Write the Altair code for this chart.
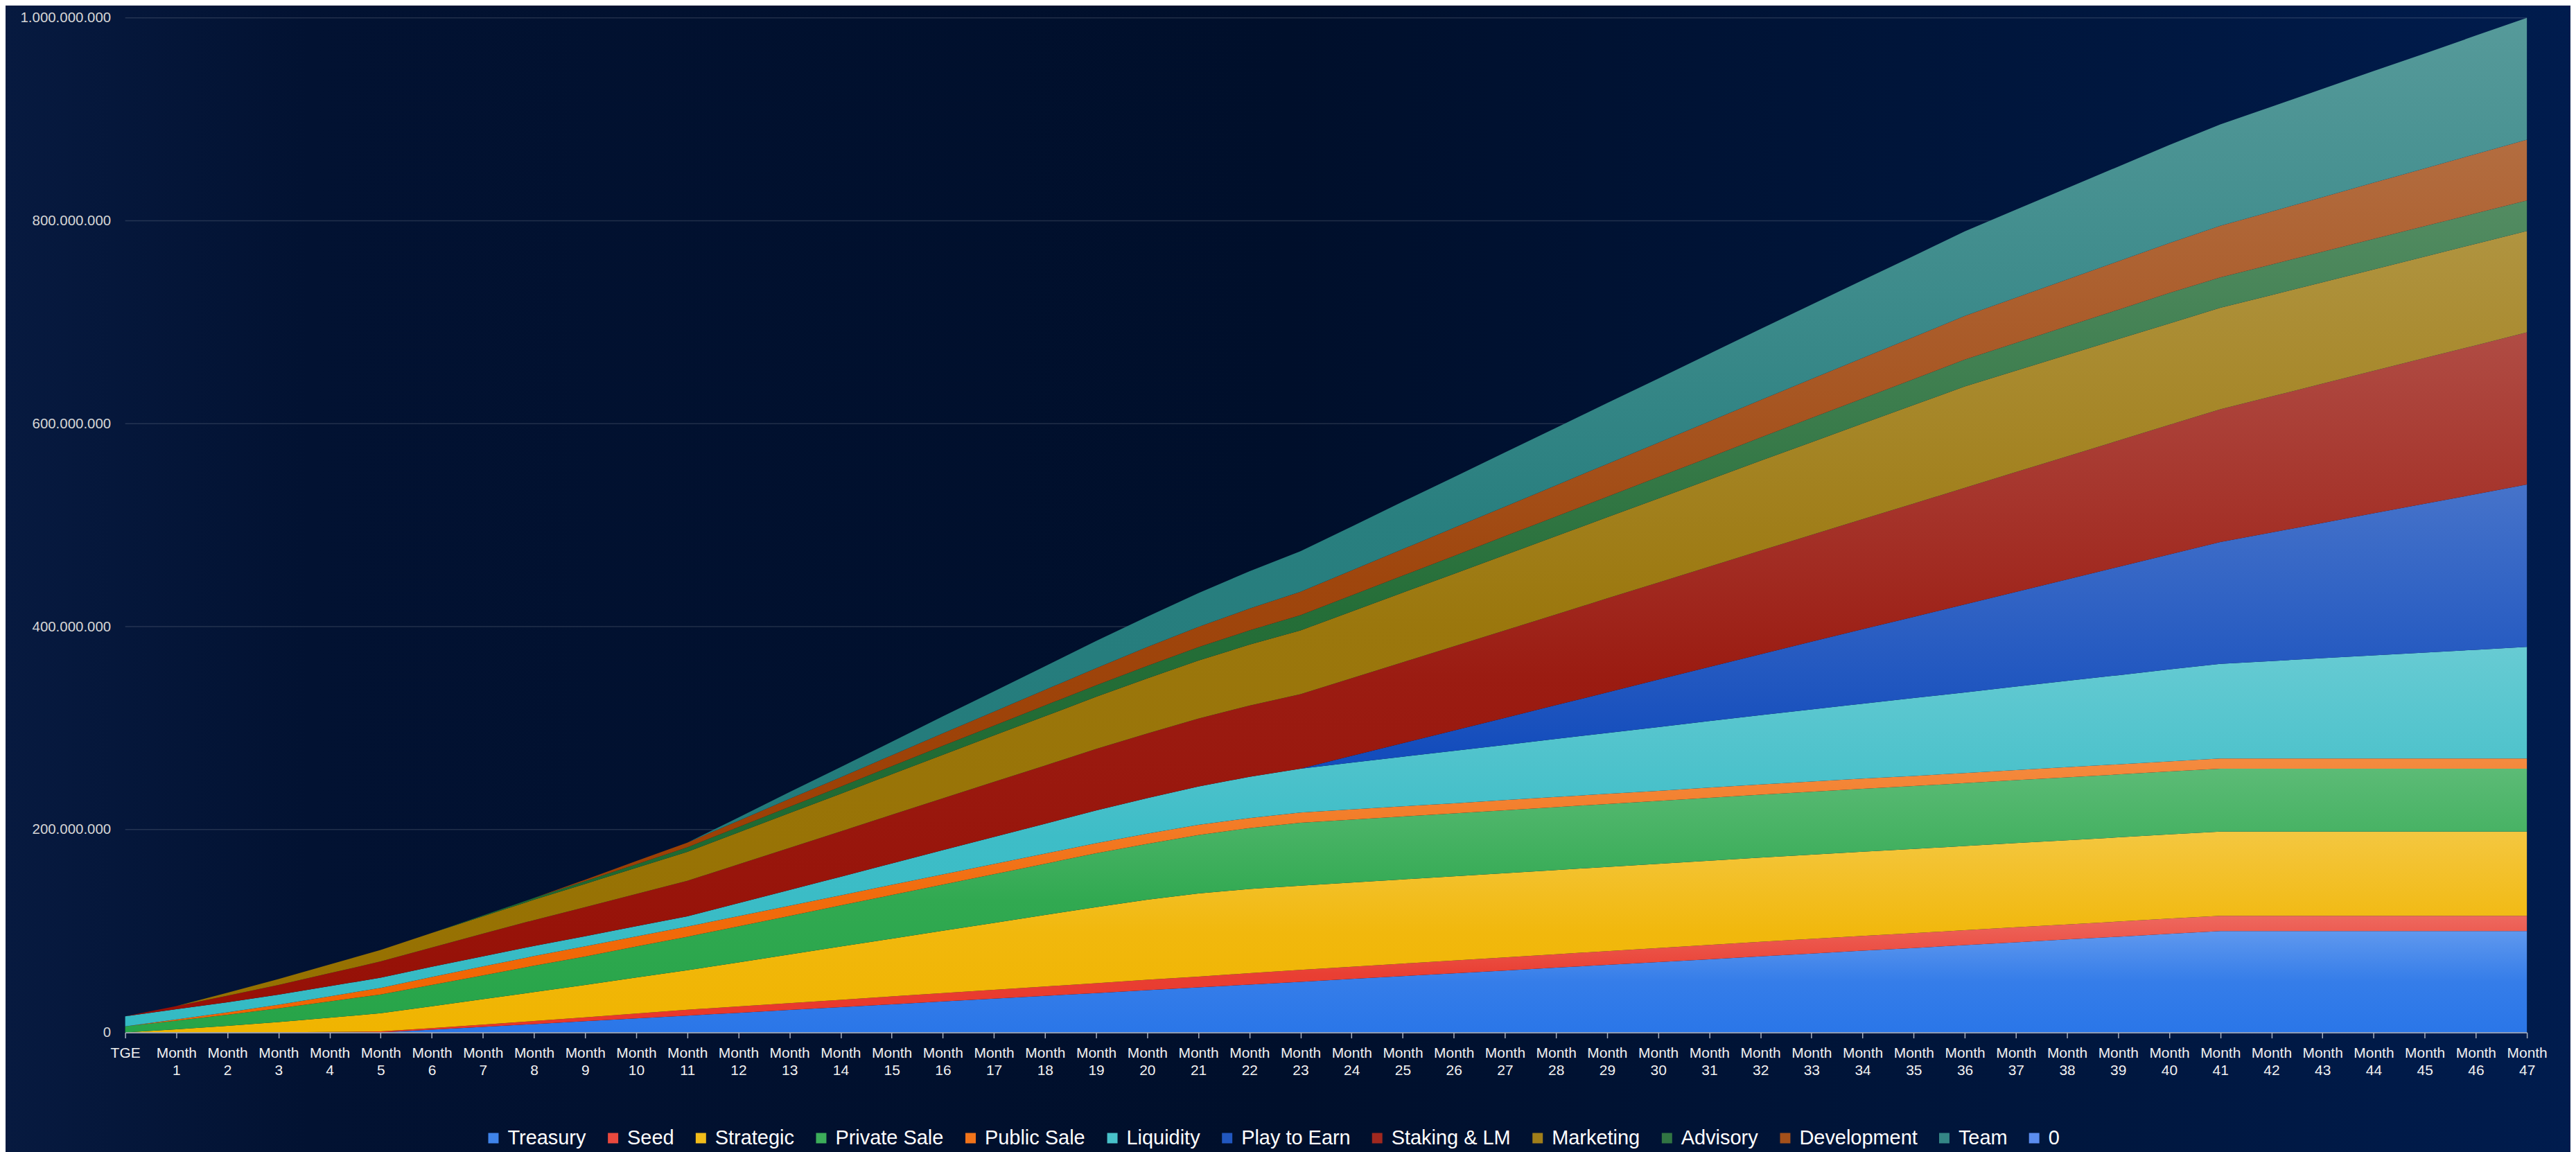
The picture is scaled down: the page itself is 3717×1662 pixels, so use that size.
import altair as alt
import pandas as pd

month_labels = ["TGE"] + ["Month " + str(i) for i in range(1, 48)]

series_names = ["Treasury", "Seed", "Strategic", "Private Sale", "Public Sale", "Liquidity",
                "Play to Earn", "Staking & LM", "Marketing", "Advisory", "Development", "Team"]
legend_names = series_names + ["0"]

y_tick_values = [0, 200000000, 400000000, 600000000, 800000000, 1000000000]
grid_values = [200000000, 400000000, 600000000, 800000000, 1000000000]

# cumulative unlocked tokens per allocation, in millions
treasury = [0, 0, 0, 0, 0, 0, 2.8, 5.6, 8.3, 11.1, 13.9, 16.7, 19.4, 22.2, 25.0, 27.8, 30.6, 33.3,
            36.1, 38.9, 41.7, 44.4, 47.2, 50.0, 52.8, 55.6, 58.3, 61.1, 63.9, 66.7, 69.4, 72.2,
            75.0, 77.8, 80.6, 83.3, 86.1, 88.9, 91.7, 94.4, 97.2, 100, 100, 100, 100, 100, 100, 100]
seed = [0, 0, 0, 0.3, 0.6, 1.0, 1.6, 2.2, 3.0, 3.8, 4.8, 5.7, 6.2, 6.7, 7.2, 7.7, 8.2, 8.7, 9.2,
        9.7, 10.2, 10.7, 11.2, 11.7, 12.0, 12.3, 12.6, 12.9, 13.2, 13.5, 13.8, 14.1, 14.4, 14.5,
        14.6, 14.6, 14.7, 14.8, 14.8, 14.9, 15, 15, 15, 15, 15, 15, 15, 15]
strategic = [0, 3.2, 6.5, 10, 14, 18, 21.5, 25, 28.5, 32, 35.5, 39, 43.5, 48, 52.5, 57, 61.5, 66,
             70.5, 75, 79, 82, 83, 83, 83, 83, 83, 83, 83, 83, 83, 83, 83, 83, 83, 83, 83, 83, 83,
             83, 83, 83, 83, 83, 83, 83, 83, 83]
private_sale = [6, 8.5, 11, 13.5, 16, 18.5, 21, 23.5, 26, 28, 30.5, 33, 35.5, 38, 40.5, 43, 45.5,
                48, 50.5, 53, 55, 57.5, 60, 62, 62, 62, 62, 62, 62, 62, 62, 62, 62, 62, 62, 62, 62,
                62, 62, 62, 62, 62, 62, 62, 62, 62, 62, 62]
public_sale = [0, 1.2, 2.3, 3.5, 5, 6.5, 7.8, 8.8, 9.5, 10, 10, 10, 10, 10, 10, 10, 10, 10, 10,
               10, 10, 10, 10, 10, 10, 10, 10, 10, 10, 10, 10, 10, 10, 10, 10, 10, 10, 10, 10, 10,
               10, 10, 10, 10, 10, 10, 10, 10]
liquidity = [10, 10, 10, 10, 10, 10, 10, 10, 10, 10, 10, 10, 12.8, 15.6, 18.3, 21.1, 23.9, 26.7,
             29.4, 32.2, 35, 37.8, 40.6, 43.3, 46.1, 48.9, 51.7, 54.4, 57.2, 60, 62.8, 65.6, 68.3,
             71.1, 73.9, 76.7, 79.4, 82.2, 85, 87.8, 90.6, 93.3, 96.1, 98.9, 101.7, 104.4, 107.2, 110]
play_to_earn = [0, 0, 0, 0, 0, 0, 0, 0, 0, 0, 0, 0, 0, 0, 0, 0, 0, 0, 0, 0, 0, 0, 0, 0, 6.7, 13.3,
                20, 26.7, 33.3, 40, 46.7, 53.3, 60, 66.7, 73.3, 80, 86.7, 93.3, 100, 106.7, 113.3,
                120, 126.7, 133.3, 140, 146.7, 153.3, 160]
staking = [0, 3.2, 6.4, 9.6, 12.8, 16, 19.1, 22.3, 25.5, 28.7, 31.9, 35.1, 38.3, 41.5, 44.7, 47.9,
           51.1, 54.3, 57.4, 60.6, 63.8, 67, 70.2, 73.4, 76.6, 79.8, 83, 86.2, 89.4, 92.6, 95.7,
           98.9, 102.1, 105.3, 108.5, 111.7, 114.9, 118.1, 121.3, 124.5, 127.7, 130.9, 134, 137.2,
           140.4, 143.6, 146.8, 150]
marketing = [0, 0, 2.9, 5.7, 8.6, 11.4, 14.3, 17.1, 20, 22.9, 25.7, 28.6, 31.4, 34.3, 37.1, 40,
             42.9, 45.7, 48.6, 51.4, 54.3, 57.1, 60, 62.9, 65.7, 68.6, 71.4, 74.3, 77.1, 80, 82.9,
             85.7, 88.6, 91.4, 94.3, 97.1, 100, 100, 100, 100, 100, 100, 100, 100, 100, 100, 100, 100]
advisory = [0, 0, 0, 0, 0, 0, 0, 0.9, 1.8, 2.6, 3.5, 4.4, 5.3, 6.2, 7, 7.9, 8.8, 9.7, 10.6, 11.4,
            12.3, 13.2, 14.1, 15, 15.8, 16.7, 17.6, 18.5, 19.4, 20.2, 21.1, 22, 22.9, 23.8, 24.6,
            25.5, 26.4, 27.3, 28.2, 29, 30, 30, 30, 30, 30, 30, 30, 30]
development = [0, 0, 0, 0, 0, 0, 0, 0, 0, 1.5, 3.1, 4.6, 6.2, 7.7, 9.2, 10.8, 12.3, 13.8, 15.4,
               16.9, 18.5, 20, 21.5, 23.1, 24.6, 26.2, 27.7, 29.2, 30.8, 32.3, 33.8, 35.4, 36.9,
               38.5, 40, 41.5, 43.1, 44.6, 46.2, 47.7, 49.2, 50.8, 52.3, 53.8, 55.4, 56.9, 58.5, 60]
team = [0, 0, 0, 0, 0, 0, 0, 0, 0, 0, 0, 0, 3.3, 6.7, 10, 13.3, 16.7, 20, 23.3, 26.7, 30, 33.3,
        36.7, 40, 43.3, 46.7, 50, 53.3, 56.7, 60, 63.3, 66.7, 70, 73.3, 76.7, 80, 83.3, 86.7, 90,
        93.3, 96.7, 100, 103.3, 106.7, 110, 113.3, 116.7, 120]

all_values = [treasury, seed, strategic, private_sale, public_sale, liquidity, play_to_earn,
              staking, marketing, advisory, development, team]

base_colors = ["#2a76e8", "#e83528", "#f0b400", "#26a448", "#f06400", "#34bac4",
               "#0844b8", "#961006", "#967000", "#1a662e", "#9a3c00", "#1e7878"]
zero_color = "#5b8def"


def mix(hexc, t, target=(255, 255, 255)):
    r, g, b = int(hexc[1:3], 16), int(hexc[3:5], 16), int(hexc[5:7], 16)
    r = round(r + (target[0] - r) * t)
    g = round(g + (target[1] - g) * t)
    b = round(b + (target[2] - b) * t)
    return "#{:02x}{:02x}{:02x}".format(r, g, b)


legend_colors = [mix(c, 0.1) for c in base_colors] + [zero_color]

rows = []
for order, (name, vals) in enumerate(zip(series_names, all_values)):
    assert len(vals) == len(month_labels), name
    for m, v in zip(month_labels, vals):
        rows.append({"month": m, "series": name, "order": order, "value": v * 1e6})
df = pd.DataFrame(rows)

FONT = "Liberation Sans"
PLOT_W, PLOT_H = 3473, 1467
PAD = {"left": 173, "top": 16, "right": 63, "bottom": 171}

x_enc = alt.X(
    "month:O",
    sort=month_labels,
    scale=alt.Scale(type="point", padding=0, domain=month_labels),
    axis=alt.Axis(
        title=None, labelExpr="split(datum.label, ' ')", labelAngle=0, labelFontSize=21,
        labelColor="#f0f0f0", labelLineHeight=25, labelBaseline="top", labelPadding=11,
        tickSize=8, tickColor="#a9b0bf", tickWidth=1.5, domainColor="#b9bfcc", domainWidth=1.5,
        grid=False, labelOverlap=False, labelFont=FONT, zindex=1,
    ),
)

y_scale = alt.Scale(domain=[0, 1e9], nice=False, zero=True)
y_axis = alt.Axis(
    title=None, values=y_tick_values,
    labelExpr="replace(replace(replace(format(datum.value, ','), ',', '.'), ',', '.'), ',', '.')",
    ticks=False, tickSize=0, domain=False, labelPadding=21, labelFontSize=20.5,
    labelColor="#d6d6d6", grid=False, labelFont=FONT, zindex=1,
)

# page backdrop (dark navy, a little bluer towards the right)
bg_grad = alt.Gradient(
    gradient="linear",
    stops=[alt.GradientStop(color="#071a40", offset=0),
           alt.GradientStop(color="#021232", offset=0.12),
           alt.GradientStop(color="#000f2b", offset=0.5),
           alt.GradientStop(color="#00173f", offset=0.82),
           alt.GradientStop(color="#001c4e", offset=1)],
    x1=0, x2=1, y1=0, y2=0,
)
backdrop = (
    alt.Chart(pd.DataFrame({"bg": [0]}))
    .mark_rect(color=bg_grad, opacity=1)
    .encode(
        x=alt.value(-PAD["left"] - 10), x2=alt.value(PLOT_W + PAD["right"] + 10),
        y=alt.value(-PAD["top"] - 10), y2=alt.value(PLOT_H + PAD["bottom"] + 10),
    )
)

# horizontal grid lines (behind the areas)
grid = (
    alt.Chart(pd.DataFrame({"g": grid_values}))
    .mark_rule(color="#ffffff", opacity=0.13, strokeWidth=1.5)
    .encode(y=alt.Y("g:Q", scale=y_scale, axis=y_axis))
)

base = alt.Chart(df).transform_stack(
    stack="value", groupby=["month"], as_=["y0", "y1"],
    sort=[alt.SortField("order", order="ascending")],
)

layers = [backdrop, grid]
for name, col in zip(series_names, base_colors):
    grad = alt.Gradient(
        gradient="linear",
        stops=[alt.GradientStop(color=mix(col, 0.25), offset=0),
               alt.GradientStop(color=mix(col, 0.05), offset=0.5),
               alt.GradientStop(color=col, offset=1)],
        x1=0, x2=0, y1=0, y2=1,
    )
    layers.append(
        base.transform_filter(alt.datum.series == name)
        .mark_area(color=grad, opacity=1, interpolate="linear")
        .encode(x=x_enc, y=alt.Y("y1:Q", scale=y_scale, axis=y_axis, stack=None), y2="y0:Q")
    )

legend_layer = (
    alt.Chart(df)
    .transform_filter("false")
    .mark_square(opacity=1)
    .encode(
        x=x_enc,
        y=alt.Y("value:Q", scale=y_scale, axis=y_axis),
        color=alt.Color(
            "series:N",
            scale=alt.Scale(domain=legend_names, range=legend_colors),
            legend=alt.Legend(
                orient="none", legendX=518, legendY=1605, direction="horizontal", title=None,
                symbolType="square", symbolSize=225, symbolStrokeWidth=0, symbolOpacity=1,
                labelFontSize=29, labelColor="#ffffff", labelFont=FONT, labelOffset=6,
                columnPadding=24, padding=0, labelLimit=0,
            ),
        ),
    )
)
layers.append(legend_layer)

chart = (
    alt.layer(*layers)
    .properties(
        width=PLOT_W, height=PLOT_H,
        autosize=alt.AutoSizeParams(type="none"),
        padding=PAD,
        background="#010f2b",
    )
    .configure_view(strokeWidth=0, strokeOpacity=0)
    .configure(font=FONT)
)

chart.save("out.html", embed_options={"renderer": "svg", "actions": False})
